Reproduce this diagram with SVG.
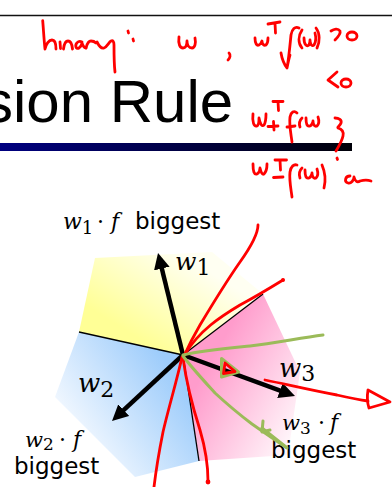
<svg xmlns="http://www.w3.org/2000/svg" width="392" height="487" viewBox="0 0 392 487">
<defs>
<style>
.ink{fill:none;stroke:#ff0000;stroke-width:2.8;stroke-linecap:round;stroke-linejoin:round}
.grn{fill:none;stroke:#9bbb59;stroke-width:3;stroke-linecap:round;stroke-linejoin:round}
.bnd{stroke:#000;stroke-width:1.3;fill:none}
.vec{stroke:#000;stroke-width:4.5;fill:none}
.m{font-family:'DejaVu Serif',serif;font-style:italic;fill:#000}
.d{font-family:'DejaVu Serif',serif;fill:#000}
.s{font-family:'DejaVu Sans',sans-serif;font-size:23px;fill:#000}
</style>
<linearGradient id="bar" x1="0" y1="0" x2="1" y2="0">
<stop offset="0" stop-color="#000080"/><stop offset="1" stop-color="#000008"/>
</linearGradient>
<linearGradient id="gy" gradientUnits="userSpaceOnUse" x1="125" y1="330" x2="175" y2="250">
<stop offset="0" stop-color="#ffff96"/><stop offset="1" stop-color="#fffff2"/>
</linearGradient>
<linearGradient id="gb" gradientUnits="userSpaceOnUse" x1="180" y1="380" x2="80" y2="450">
<stop offset="0" stop-color="#9dccfb"/><stop offset="1" stop-color="#f6faff"/>
</linearGradient>
<linearGradient id="gp" gradientUnits="userSpaceOnUse" x1="205" y1="370" x2="300" y2="425">
<stop offset="0" stop-color="#ff9ccc"/><stop offset="1" stop-color="#fff6fa"/>
</linearGradient>
<marker id="ah" viewBox="0 0 16 16" refX="6" refY="8" markerWidth="16" markerHeight="16" markerUnits="userSpaceOnUse" orient="auto">
<path d="M0,0 L16,8 L0,16 Z" fill="#000"/>
</marker>
</defs>
<rect width="392" height="487" fill="#fff"/>

<g id="header">
<line x1="0" y1="15.5" x2="392" y2="15.5" stroke="#111" stroke-width="1.6"/>
<text x="-17" y="122" font-family="'Liberation Sans',Arial,sans-serif" font-size="60" fill="#000">sion Rule</text>
<rect x="0" y="143" width="352" height="8" fill="url(#bar)"/>
</g>

<g id="regions">
<polygon points="183,355 79,332 95,258 212,252 263,294" fill="url(#gy)"/>
<polygon points="183,355 79,332 55,397 135,477 199,461" fill="url(#gb)"/>
<polygon points="183,355 263,294 300,372 288,455 199,461" fill="url(#gp)"/>
</g>

<g id="boundaries">
<line class="bnd" x1="183" y1="355" x2="79" y2="332"/>
<line class="bnd" x1="183" y1="355" x2="263" y2="294"/>
<line class="bnd" x1="183" y1="355" x2="199" y2="461"/>
</g>

<g id="vectors">
<line class="vec" x1="183" y1="355" x2="160.4" y2="262.7" marker-end="url(#ah)"/>
<line class="vec" x1="183" y1="355" x2="119.3" y2="414.2" marker-end="url(#ah)"/>
<line class="vec" x1="183" y1="355" x2="285.6" y2="392.6" marker-end="url(#ah)"/>
</g>

<g id="labels">
<text x="63" y="229"><tspan class="m" font-size="22">w</tspan><tspan class="d" font-size="18" dy="5">1</tspan><tspan class="d" font-size="22" dy="-5" x="97">·</tspan><tspan class="m" font-size="22" x="111">f</tspan></text>
<text class="s" x="135" y="229">biggest</text>
<text x="175" y="270"><tspan class="m" font-size="25">w</tspan><tspan class="d" font-size="22" dy="5">1</tspan></text>
<text x="78" y="392"><tspan class="m" font-size="26">w</tspan><tspan class="d" font-size="22" dy="5">2</tspan></text>
<text x="279" y="377"><tspan class="m" font-size="26">w</tspan><tspan class="d" font-size="22" dy="4">3</tspan></text>
<text x="25" y="447"><tspan class="m" font-size="21">w</tspan><tspan class="d" font-size="17" dy="3">2</tspan><tspan class="d" font-size="22" dy="-3" x="59">·</tspan><tspan class="m" font-size="22" x="73">f</tspan></text>
<text class="s" x="14" y="474">biggest</text>
<text x="282" y="430"><tspan class="m" font-size="21">w</tspan><tspan class="d" font-size="17" dy="4">3</tspan><tspan class="d" font-size="22" dy="-4" x="318">·</tspan><tspan class="m" font-size="22" x="330">f</tspan></text>
<text class="s" x="271" y="458">biggest</text>
</g>

<g id="handwriting">
<path class="ink" d="M42.7,20.7 C43.5,30 44,40 45,49 C46,44 49,40 52,40 C55,40 56,44 56,49"/>
<path class="ink" d="M60,42 L60.5,48.5"/>
<path class="ink" d="M63.5,49 C64,45 65,41 68,41 C71,41 72,44 72.5,49"/>
<path class="ink" d="M82,42 C78,40 75,44 76,47 C77,50 81,48 82,43 C83,46 84,48 86,48"/>
<path class="ink" d="M86,48 C87,44 88,41 91,41 C93,41 95,42 96,43"/>
<path class="ink" d="M97,42 C99,46 101,49 104,48 C107,47 109,42 111,41 C113,40 114,42 114,45 C114,55 114,64 115,72"/>
<path class="ink" d="M128,31 L128.5,33 M133,39 L133.5,41"/>
<path class="ink" d="M179,37 C178,44 180,48 183,48 C186,48 187,44 187,41 C187,45 189,48 192,48 C195,48 196,43 195,38"/>
<path class="ink" d="M229,53 C231,55 230,58 228,60"/>
<path class="ink" d="M255,38 C255,44 257,46 259,45 C261,44 262,41 262,41 C262,44 264,46 266,45 C268,43 268,40 268,38"/>
<path class="ink" d="M268,24 L280,22 M275,23 L275.5,33"/>
<path class="ink" d="M299,28 C295,26 292,29 291,35 C290,45 289,57 287,68 M281,53 C282,59 284,64 287,68 C288,63 289,58 290,55"/>
<path class="ink" d="M302,30 C298,36 298,43 302,48"/>
<path class="ink" d="M304,38 C304,45 307,47 309,45 C310,43 310,40 310,40 C310,44 312,47 314,45 C316,42 316,37 315,33"/>
<path class="ink" d="M316,28 C320,33 320,42 317,48"/>
<path class="ink" d="M331,31 C334,29 338,28 340,31 C341,34 338,37 335,40"/>
<ellipse class="ink" cx="352" cy="36" rx="5" ry="4"/>
<path class="ink" d="M337,72 L328,80 L338,87"/>
<ellipse class="ink" cx="346" cy="83" rx="5" ry="4"/>
<path class="ink" d="M253,114 C252,122 254,127 257,126 C259,125 259,120 259,118 C260,124 262,127 264,125 C266,122 266,117 266,114"/>
<path class="ink" d="M268,126.5 L278,126 M273.5,121.5 L274,130"/>
<path class="ink" d="M273,101.5 L283,101.5 M278,101.5 L278.5,110.5"/>
<path class="ink" d="M297,113 C294,110 291,112 290,117 C289,125 291,134 292,142 M287,127 L295,126"/>
<path class="ink" d="M302,118 C299,121 299,124 300,127"/>
<path class="ink" d="M306,118 C306,124 307,127 310,126 C312,125 313,122 313,121 C313,125 315,127 317,126 C319,124 319,120 318,117"/>
<path class="ink" d="M335,118 C339,118 342,120 341,123 C340,126 337,127 338,128 C342,129 344,132 343,136 C342,141 339,146 336,151"/>
<path class="ink" d="M253,164 C253,171 254,175 257,174 C259,173 260,170 260,168 C261,172 262,175 264,174 C266,172 267,168 267,164"/>
<path class="ink" d="M275,160 L286.5,160 M280,160 L280.5,170"/>
<path class="ink" d="M273.5,177.5 L283,177"/>
<path class="ink" d="M297,165 C294,164 291,166 290,172 C289,180 291,189 292,197"/>
<path class="ink" d="M302,168 C299,171 299,175 300,178"/>
<path class="ink" d="M305,170 C305,176 306,179 309,178 C311,177 312,174 312,173 C312,177 314,179 316,178 C318,176 318,172 317,169"/>
<path class="ink" d="M322,165 C325,172 326,180 324,188"/>
<path class="ink" d="M337,158 L337.5,159.5"/>
<path class="ink" d="M350,176 C345,176 344,182 348,183 C351,184 354,180 354,177 C355,181 357,183 360,181 C364,180 368,180 371,181"/>
</g>

<g id="annotations">
<path class="ink" d="M258,225 C258,235 250,248 240,262 C226,282 212,305 200,325 C193,337 188,347 184,356"/>
<path class="ink" d="M283,280 C270,288 255,297 240,305 C220,317 200,330 185,354"/>
<circle cx="283" cy="280" r="2" fill="#ff0000"/>
<path class="ink" d="M182,357 C177,380 168,410 163,432 C159,452 156,470 154,487"/>
<path class="ink" d="M183,358 C186,380 192,405 200,430 C205,447 208,462 208,481"/>
<circle cx="208" cy="482" r="2.4" fill="#ff0000"/>
<path class="ink" d="M265,380 C285,384 310,390 337,395 C350,398 360,400 368,401"/>
<path class="ink" d="M368,390 C367,396 367,402 369,408 L390,402 Z"/>
<path class="grn" d="M183,355 C205,350 230,348 250,346 C275,343 300,338 323,335"/>
<path class="grn" d="M183,356 C192,368 205,382 215,393 C228,405 240,415 252,424 C262,431 275,440 287,448"/>
<path class="grn" d="M262,428 L286,447" stroke-width="6"/>
<path class="grn" d="M263,421 L262,432 L270,430"/>
<path class="grn" d="M221.5,358.5 L238.5,372 L221.5,377 Z"/>
<path class="ink" d="M225,363 L235,371.5 L223.5,373.5 Z" stroke-width="2"/>
</g>
</svg>
